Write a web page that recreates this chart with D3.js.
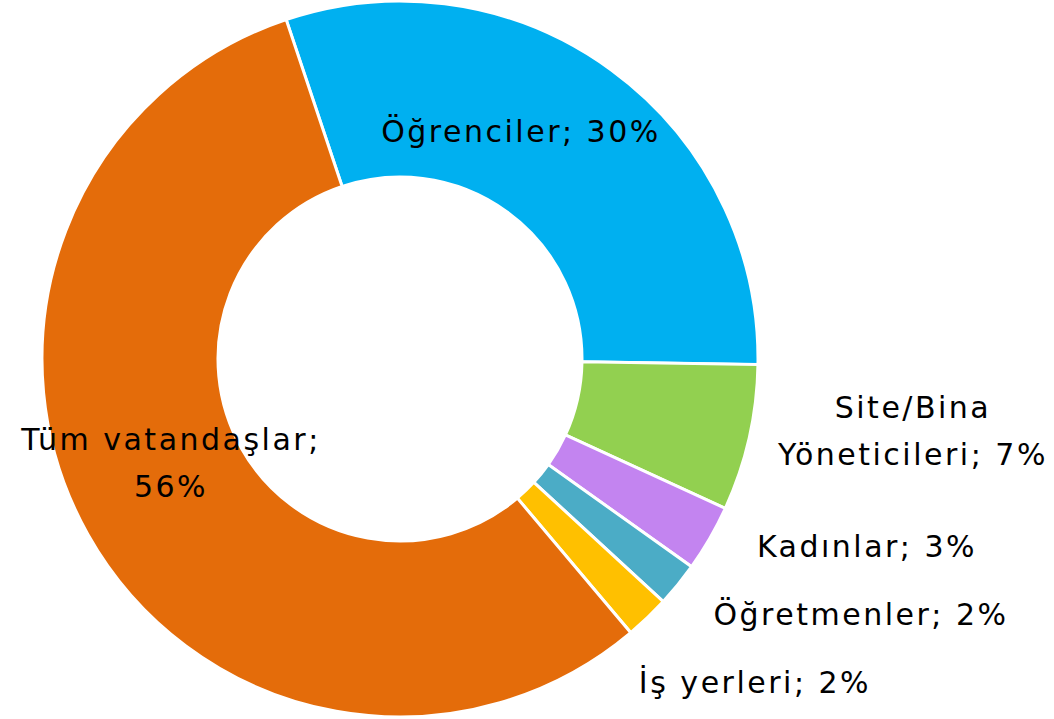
<!DOCTYPE html>
<html>
<head>
<meta charset="utf-8">
<script src="https://cdn.jsdelivr.net/npm/d3@7"></script>
<style>
  body { margin: 0; background: #fff; }
  .label { font-family: "DejaVu Sans", sans-serif; font-size: 30px; fill: #000; letter-spacing: 2.5px; }
</style>
</head>
<body>
<div class="donut-chart"></div>
<script>
// data, clockwise from the top-left edge of the blue slice
const groups = ["Öğrenciler", "Site/Bina Yöneticileri", "Kadınlar", "Öğretmenler", "İş yerleri", "Tüm vatandaşlar"];
const shares = [30.4, 6.6, 3.0, 2.0, 2.0, 56.0];
const colors = ["#00B0F0", "#92D050", "#C384F0", "#4BACC6", "#FFC000", "#E46C0A"];
// label text lines
const labelLines = [
  ["Öğrenciler; 30%"],
  ["Site/Bina", "Yöneticileri; 7%"],
  ["Kadınlar; 3%"],
  ["Öğretmenler; 2%"],
  ["İş yerleri; 2%"],
  ["Tüm vatandaşlar;", "56%"]
];

function main(){
    const width = 1054, height = 719;
    const cx = 400, cy = 359;
    const outerR = 358, innerR = 182;

    // where the labels sit, relative to the donut center
    const labelOffset = [
        [121, -228],
        [513, 72],
        [467, 187],
        [461, 255],
        [355, 323],
        [-229, 104]
    ];
    const lineGap = 47;

    const svg = d3.select(".donut-chart")
                  .append("svg")
                  .attr("width", width)
                  .attr("height", height)
                  .append("g")
                  .attr("transform", `translate(${cx},${cy})`);

    const pie = d3.pie()
                  .sort(null)
                  .value(d => d.value)
                  .startAngle(-18.54 * Math.PI / 180)
                  .endAngle((360 - 18.54) * Math.PI / 180);

    const arc = d3.arc()
                  .innerRadius(innerR)
                  .outerRadius(outerR);

    const data = groups.map((g, i) => ({name: g, value: shares[i], color: colors[i], lines: labelLines[i], off: labelOffset[i]}));

    svg.selectAll("path.slice")
        .data(pie(data))
        .enter()
        .append("path")
        .attr("class", "slice")
        .attr("d", arc)
        .attr("fill", d => d.data.color)
        .attr("stroke", "#fff")
        .attr("stroke-width", 3)
        .attr("stroke-linejoin", "miter");

    const labels = svg.selectAll("text.label")
        .data(data)
        .enter()
        .append("text")
        .attr("class", "label")
        .attr("text-anchor", "middle")
        .attr("x", d => d.off[0])
        .attr("y", d => d.off[1] - (d.lines.length - 1) * lineGap / 2);

    labels.selectAll("tspan")
        .data(d => d.lines.map((l, j) => ({text: l, j: j, x: d.off[0]})))
        .enter()
        .append("tspan")
        .attr("x", t => t.x)
        .attr("dy", t => t.j === 0 ? "0.36em" : lineGap)
        .text(t => t.text);
}

main();
</script>
</body>
</html>
